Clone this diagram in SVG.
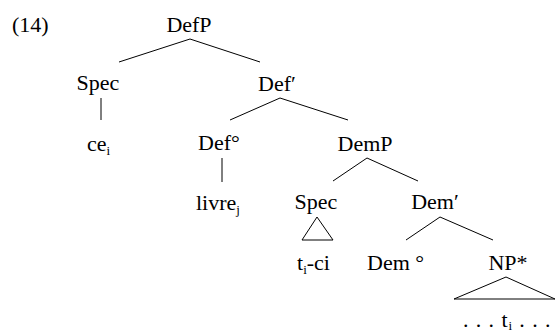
<svg xmlns="http://www.w3.org/2000/svg" width="556" height="333" viewBox="0 0 556 333">
  <style>
    .t { font-family: 'Liberation Serif', 'DejaVu Serif', serif; font-size: 22px; fill: #000; }
    .c { text-anchor: middle; }
    .sub { font-size: 13px; }
    .edge { stroke: #000; stroke-width: 1; fill: none; }
  </style>
  <rect width="556" height="333" fill="#fff"/>
  <g class="t" font-family="Liberation Serif, serif">
    <text id="label" x="12" y="32">(14)</text>
  </g>

  <g id="connectors">
    <polyline class="edge" points="119,62 190,39 260,62"/>
    <line class="edge" x1="101" y1="98" x2="101" y2="120"/>
    <polyline class="edge" points="230,120 280,98 348,120"/>
    <line class="edge" x1="222" y1="158" x2="222" y2="182"/>
    <polyline class="edge" points="333,181 367,158 418,181"/>
    <polygon class="edge" points="317,217 302,240 333,240"/>
    <polyline class="edge" points="406,240 440,217 493,240"/>
    <polygon class="edge" points="506,277 454,299 555,299"/>
  </g>

  <g class="t" font-family="Liberation Serif, serif">
    <g id="defp"><text class="c" x="189" y="32">DefP</text></g>
    <g id="spec1"><text class="c" x="98" y="90">Spec</text></g>
    <g id="defbar"><text class="c" x="277" y="91">Def′</text></g>
    <g id="ce"><text x="87" y="151">ce<tspan class="sub" dy="4">i</tspan></text></g>
    <g id="defhead"><text class="c" x="219" y="150">Def°</text></g>
    <g id="demp"><text class="c" x="365" y="151">DemP</text></g>
    <g id="livre"><text x="196" y="210">livre<tspan class="sub" dy="4">j</tspan></text></g>
    <g id="spec2"><text class="c" x="316" y="209">Spec</text></g>
    <g id="dembar"><text class="c" x="435" y="209">Dem′</text></g>
    <g id="tci"><text x="297" y="270">t<tspan class="sub" dy="4">i</tspan><tspan dy="-4">-ci</tspan></text></g>
    <g id="demhead"><text x="367" y="270">Dem °</text></g>
    <g id="np"><text class="c" x="508" y="270">NP*</text></g>
    <g id="trace"><text x="463" y="327" letter-spacing="0.9">. . . t<tspan class="sub" dy="3">i</tspan><tspan dy="-3"> . . .</tspan></text></g>
  </g>
</svg>
